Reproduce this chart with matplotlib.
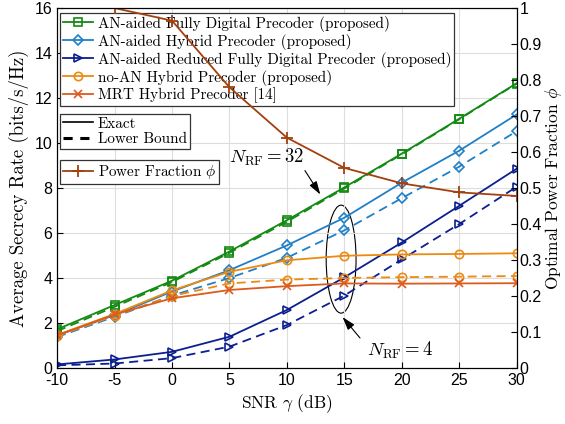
import matplotlib
matplotlib.use("Agg")
import matplotlib.pyplot as plt
from matplotlib.lines import Line2D
from matplotlib.patches import Ellipse

plt.rcParams["font.family"] = "serif"
plt.rcParams["font.serif"] = ["cmr10", "DejaVu Serif"]
plt.rcParams["mathtext.fontset"] = "cm"
plt.rcParams["axes.unicode_minus"] = False
plt.rcParams["axes.formatter.use_mathtext"] = False

# data
snr = [-10, -5, 0, 5, 10, 15, 20, 25, 30]
fd_exact = [1.72, 2.80, 3.88, 5.18, 6.57, 8.03, 9.53, 11.08, 12.66]
fd_lb = [1.64, 2.72, 3.82, 5.12, 6.50, 7.98, 9.50, 11.06, 12.64]
hyb_exact = [1.45, 2.35, 3.40, 4.35, 5.45, 6.68, 8.24, 9.66, 11.27]
hyb_lb = [1.38, 2.28, 3.22, 4.00, 4.90, 6.12, 7.55, 8.95, 10.53]
red_exact = [0.16, 0.38, 0.72, 1.39, 2.58, 4.03, 5.58, 7.21, 8.86]
red_lb = [0.12, 0.20, 0.44, 0.95, 1.91, 3.22, 4.83, 6.40, 8.06]
noan_exact = [1.47, 2.40, 3.45, 4.28, 4.79, 4.99, 5.05, 5.07, 5.10]
noan_lb = [1.42, 2.33, 3.20, 3.76, 3.93, 4.00, 4.04, 4.06, 4.09]
mrt = [1.45, 2.38, 3.10, 3.47, 3.64, 3.76, 3.75, 3.76, 3.77]
phi = [1.0, 1.0, 0.965, 0.78, 0.64, 0.556, 0.513, 0.488, 0.478]

labels = ["AN-aided Fully Digital Precoder (proposed)",
          "AN-aided Hybrid Precoder (proposed)",
          "AN-aided Reduced Fully Digital Precoder (proposed)",
          "no-AN Hybrid Precoder (proposed)",
          "MRT Hybrid Precoder [14]"]
phi_ticks = ["0", "0.1", "0.2", "0.3", "0.4", "0.5", "0.6",
             "0.7", "0.8", "0.9", "1"]

c_green = "#138a13"
c_blue = "#1f80c8"
c_navy = "#0c1f8f"
c_orange = "#ec8a12"
c_mrt = "#dc5a1c"
c_phi = "#a3400e"

tickfont = "Liberation Sans"
dash = (0, (5, 3))

fig = plt.figure(figsize=(5.65, 4.24), dpi=100)
ax = fig.add_axes([0.101, 0.132, 0.8135, 0.849])

series = [(fd_exact, fd_lb, c_green, "s"),
          (hyb_exact, hyb_lb, c_blue, "D"),
          (red_exact, red_lb, c_navy, ">"),
          (noan_exact, noan_lb, c_orange, "o")]
handles = []
for ex, lb, col, mk in series:
    ms = 5 if mk == "D" else 6
    ax.plot(snr, lb, color=col, marker=mk, ls=dash, lw=1.3, ms=ms,
            mfc="none", mew=1.2)
    h, = ax.plot(snr, ex, color=col, marker=mk, lw=1.3, ms=ms,
                 mfc="none", mew=1.2)
    handles.append(h)
h, = ax.plot(snr, mrt, color=c_mrt, marker="x", lw=1.3, ms=6, mew=1.2)
handles.append(h)

ax.set_xlim(-10, 30)
ax.set_ylim(0, 16)
ax.set_xticks(range(-10, 31, 5))
ax.set_yticks(range(0, 17, 2))
ax.grid(True, color="#dddddd", lw=0.8)
ax.tick_params(direction="in", labelsize=11.5, labelfontfamily=tickfont,
               length=4)
ax.set_xlabel(r"SNR $\gamma$ (dB)", fontsize=12.5, labelpad=3)
ax.set_ylabel("Average Secrecy Rate (bits/s/Hz)", fontsize=13.5)

ax2 = ax.twinx()
hp, = ax2.plot(snr, phi, color=c_phi, marker="+", lw=1.3, ms=8, mew=1.3)
ax2.set_ylim(0, 1)
ax2.set_yticks([i / 10 for i in range(11)])
ax2.set_yticklabels(phi_ticks)
ax2.tick_params(direction="in", labelsize=11.5, labelfontfamily=tickfont,
                length=4, pad=2)
ax2.set_ylabel(r"Optimal Power Fraction $\phi$", fontsize=12.5, labelpad=1)

leg_kw = dict(fontsize=10.9, fancybox=False, framealpha=1,
              edgecolor="0.2", borderpad=0.2, labelspacing=0.13,
              handlelength=2.0, handletextpad=0.3, borderaxespad=0)
leg1 = ax.legend(handles, labels, loc="upper left",
                 bbox_to_anchor=(0.006, 0.987), **leg_kw)
leg1.get_frame().set_linewidth(0.9)
ax.add_artist(leg1)
h_ex = Line2D([], [], color="k", lw=1.2)
h_lb = Line2D([], [], color="k", lw=2.2, ls=(0, (3, 2.5)))
leg2 = ax.legend([h_ex, h_lb], ["Exact", "Lower Bound"], loc="upper left",
                 bbox_to_anchor=(0.006, 0.706), **leg_kw)
leg2.get_frame().set_linewidth(0.9)
leg3 = ax2.legend([hp], [r"Power Fraction $\phi$"], loc="upper left",
                  bbox_to_anchor=(0.006, 0.578), **leg_kw)
leg3.get_frame().set_linewidth(0.9)

arrow = dict(arrowstyle="-|>,head_length=0.8,head_width=0.25",
             color="k", lw=0.8)
ax.annotate(r"$N_{\rm RF}=32$", xy=(13.0, 7.6), xytext=(8.2, 9.35),
            fontsize=13.5, ha="center", va="center")
ax.annotate("", xy=(13.04, 7.61), xytext=(11.44, 8.88), arrowprops=arrow)
ax.add_patch(Ellipse((14.72, 4.84), 2.6, 4.8, fill=False, ec="k",
                     lw=0.8))
ax.annotate(r"$N_{\rm RF}=4$", xy=(14.69, 2.36), xytext=(19.85, 0.8),
            fontsize=13.5, ha="center", va="center")
ax.annotate("", xy=(14.69, 2.36), xytext=(16.52, 1.24), arrowprops=arrow)

fig.savefig("out.png", dpi=100)
